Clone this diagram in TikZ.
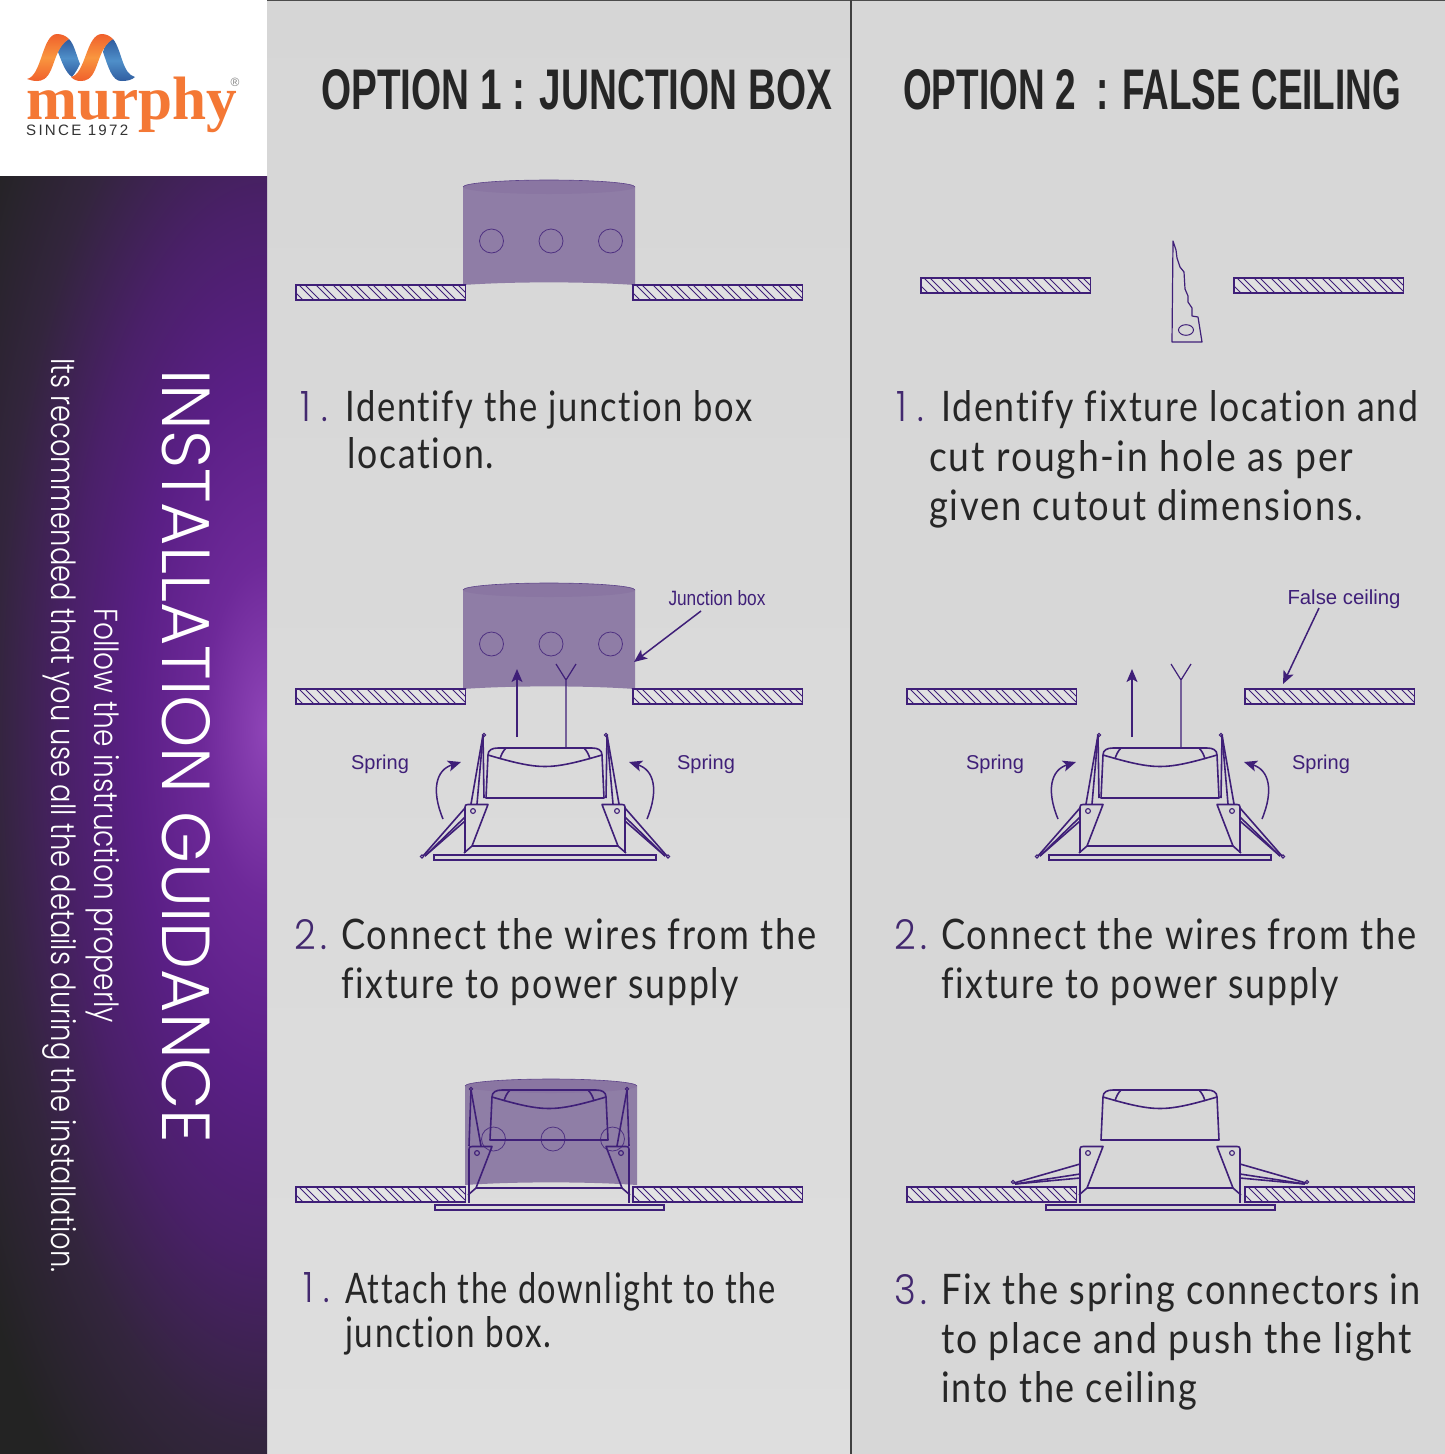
\documentclass[tikz,border=0pt]{standalone}
\usepackage{graphicx}
\usepackage{fontspec}
\setmainfont{Liberation Sans}
\newfontfamily\bodyf[LetterSpace=5,Ligatures=CommonOff]{Lato}
\newfontfamily\numf{Poppins Light}
\newfontfamily\sidef{Poppins Light}
\newfontfamily\logof{Liberation Serif}
\usetikzlibrary{arrows.meta}
\definecolor{ink}{HTML}{3F1F78}
\definecolor{txt}{HTML}{262626}
\definecolor{num}{HTML}{43296F}
\definecolor{drumc}{HTML}{8D7BA5}
\definecolor{drumtop}{HTML}{8A76A2}
\definecolor{logoO}{HTML}{F47835}
\definecolor{ribR}{HTML}{F0602C}
\definecolor{ribM}{HTML}{F9963F}
\definecolor{ribB}{HTML}{2F5B9E}
\definecolor{ribL}{HTML}{4F8FC9}
\pgfdeclareradialshading{sideglow}{\pgfpoint{0bp}{0bp}}{
 rgb(0bp)=(.56,.27,.72);
 rgb(4bp)=(.43,.16,.60);
 rgb(8.5bp)=(.35,.12,.52);
 rgb(12.5bp)=(.29,.125,.41);
 rgb(17bp)=(.20,.145,.24);
 rgb(22bp)=(.137,.137,.137);
 rgb(50bp)=(.137,.137,.137)}
\tikzset{
 fx/.style={draw=ink,line width=1.6pt,line join=round},
 barframe/.style={draw=ink,line width=1.3pt},
 lbl/.style={text=ink,inner sep=0pt,font=\fontsize{20}{20}\selectfont},
 bodytext/.style={text=txt,inner sep=0pt,anchor=base west,font=\bodyf\fontsize{36}{36}\selectfont},
 bodynum/.style={text=num,inner sep=0pt,anchor=base west,font=\numf\fontsize{36}{36}\selectfont},
 titletext/.style={text=txt,inner sep=0pt,anchor=base west,font=\bfseries\fontsize{56}{56}\selectfont},
 sidetext/.style={text=white,inner sep=0pt,anchor=base west,rotate=-90},
 ptr/.style={draw=ink,line width=1.5pt,-{Stealth[length=13pt,width=11pt,inset=3pt]}},
}
\newcommand\bl[2]{\resizebox{#1pt}{31pt}{#2}}
\newcommand\hatchbar[2]{%
 \begin{scope}[shift={(#1,#2)}]
  \fill[fill=white,fill opacity=0.25] (0,0) rectangle (169.5,15);
  \begin{scope}
   \clip (0,0) rectangle (169.5,15);
   \foreach \k in {0,...,10}{
    \draw[ink,line width=0.9pt] ({17*\k-14},0) -- ++(15,15);
    \draw[ink,line width=0.9pt] ({17*\k-8},0) -- ++(15,15);
   }
  \end{scope}
  \draw[barframe] (0,0) rectangle (169.5,15);
 \end{scope}}
\newcommand\drum[4]{%
 \begin{scope}[shift={(#1,0)}]
  \fill[drumc,fill opacity=.97] (0,#2) -- (0,#3) .. controls (50,{#3-3.5}) and (122,{#3-3.5}) .. (172,#3) -- (172,#2) -- cycle;
  \fill[drumtop] (86,#2) ellipse (86 and 7);
  \draw[ink!60!drumc,line width=.6pt] (0,#2) arc[start angle=180,end angle=360,x radius=86,y radius=7];
  \foreach \hx in {28.5,88,147.5} \draw[ink,line width=.8pt,draw opacity=.8] (\hx,#4) circle (12);
 \end{scope}}
\newcommand\fixhalf{%
  \draw[fx] (-57,35) .. controls (-57,30) and (-53,28) .. (-47,28) -- (0,28);
  \draw[fx] (-57,35) -- (-59,78) -- (0,78);
  \draw[fx] (-57,35) .. controls (-30,43) and (-14,46.5) .. (0,46.5);
  \draw[fx] (-39,28) .. controls (-42,31) and (-44,35) .. (-45,39);
  \draw[fx] (-80,87) .. controls (-80,85) and (-79,84.5) .. (-77,84.5) -- (-57,84.5) -- (-73,126) -- (0,126);
  \draw[fx] (-80,87) -- (-80,133);
  \draw[fx] (-73,126) -- (-81,133);
  \draw[ink,line width=1.1pt] (-72,91) circle (2.4);
}
\newcommand\fixcore[2]{%
 \begin{scope}[shift={(#1,#2)}]
  \fixhalf
  \begin{scope}[xscale=-1]\fixhalf\end{scope}
 \end{scope}}
\newcommand\flange[3]{\draw[ink,line width=2pt] ({#1-#3},#2) rectangle ({#1+#3},{#2+5});}
\newcommand\springsOpen{%
  \draw[fx] (-62,15) -- (-74,84);
  \draw[fx] (-62,15) -- (-68,84);
  \draw[fx] (-62,15) -- (-61,78);
  \draw[fx] (-80,88) -- (-122,136);
  \draw[fx] (-80,97) -- (-120,136);
  \draw[fx] (-80,101) -- (-120,136);
  \draw[ink,line width=1.1pt] (-61,15) circle (1.6);
  \draw[ink,line width=1.1pt] (-123,136.5) circle (1.6);
}
\newcommand\springsUp{%
  \draw[fx] (-78,28) -- (-80,84);
  \draw[fx] (-78,28) -- (-68,84);
  \draw[ink,line width=1.1pt] (-78,27) circle (1.6);
}
\newcommand\springsFlat{%
  \draw[fx] (-80,102) -- (-146,121);
  \draw[fx] (-80,112) -- (-145,122);
  \draw[fx] (-80,116) -- (-145,122);
  \draw[ink,line width=1.1pt] (-147,120) circle (1.6);
}
\newcommand\fixwith[3]{%
 \begin{scope}[shift={(#1,#2)}]
  #3
  \begin{scope}[xscale=-1]#3\end{scope}
 \end{scope}}
\begin{document}
\begin{tikzpicture}[x=1pt,y=-1pt]
\useasboundingbox (0,0) rectangle (1445,1454);
% panels
\shade[top color=black!16,bottom color=black!13] (267,0) rectangle (851,1454);
\fill[black!15.5] (851,0) rectangle (1445,1454);
% sidebar
\begin{scope}
 \clip (0,176) rectangle (267,1454);
 \shade[shading=sideglow] (267,730) ellipse (400 and 1050);
\end{scope}
% logo panel
\fill[white] (0,0) rectangle (267,176);
\draw[black!70,line width=.8pt] (267,0.4) -- (1445,0.4);
\draw[black!75,line width=2pt] (851,0) -- (851,1454);
% logo ribbons
\shade[top color=ribB,bottom color=ribB,middle color=ribL]
 (69,39) .. controls (63,42) and (60,47) .. (58,52) .. controls (62,62) and (65,72) .. (72,77) .. controls (76,72) and (78,68) .. (80,64) .. controls (76,54) and (74,44) .. (69,39) -- cycle;
\shade[top color=ribB,bottom color=ribB,middle color=ribL]
 (113,39) .. controls (107,42) and (104,47) .. (103,52) .. controls (108,66) and (112,82) .. (122,81) .. controls (127,81) and (132,80) .. (135,77) .. controls (122,74) and (122,50) .. (113,39) -- cycle;
\shade[top color=ribR,bottom color=ribR,middle color=ribM]
 (27,79) .. controls (42,76) and (42,34) .. (57,34) .. controls (62,34) and (66,36) .. (69,39) .. controls (58,46) and (56,58) .. (51,70) .. controls (47,79) and (42,81) .. (37,81) .. controls (33,81) and (30,80) .. (27,79) -- cycle;
\shade[top color=ribR,bottom color=ribR,middle color=ribM]
 (71,77) .. controls (86,74) and (86,34) .. (102,34) .. controls (106,34) and (110,36) .. (113,39) .. controls (102,46) and (100,58) .. (95,70) .. controls (91,79) and (86,81) .. (81,81) .. controls (77,81) and (74,80) .. (71,77) -- cycle;
\node[inner sep=0pt,anchor=base west,text=logoO] (logoword) at (26,119) {\resizebox{211pt}{!}{\logof\bfseries murphy}};
\node[inner sep=0pt,anchor=base west,text=black!80] (logosince) at (26,135) {\resizebox{102pt}{!}{\addfontfeature{LetterSpace=15}SINCE 1972}};
\node[inner sep=0pt,text=black!50] (logoreg) at (235,82) {\fontsize{12}{12}\selectfont ®};
% sidebar text
\node[sidetext] (sidetitle) at (162,369) {\resizebox{774pt}{48pt}{\sidef INSTALLATION GUIDANCE}};
\node[sidetext] (sidefollow) at (94,608) {\resizebox{415pt}{25pt}{\sidef Follow the instruction properly}};
\node[sidetext] (siderec) at (52,358) {\resizebox{914pt}{25pt}{\sidef Its recommended that you use all the details during the installation.}};
% titles
\node[titletext] (title1) at (321,109) {\resizebox{511pt}{40pt}{OPTION 1 : JUNCTION BOX}};
\node[titletext] (title2) at (903,109) {\resizebox{498pt}{40pt}{OPTION 2\ \ : FALSE CEILING}};
% Row 1
\drum{463}{187}{285}{241}
\hatchbar{296}{285}\hatchbar{633}{285}
\hatchbar{921}{278}\hatchbar{1234}{278}
\draw[ink,line width=1.2pt,line join=round] (1173,241) -- (1176,250) -- (1177,258) -- (1180,267) -- (1184,272) -- (1185,289) -- (1188,296) -- (1188,302) -- (1192,308) -- (1192,316) -- (1198,317) -- (1202,342) -- (1172,342) -- cycle;
\draw[ink,line width=1pt] (1186,330) ellipse (7.5 and 5.3);
% Row 1 text
\node[bodynum]  (t1n) at (300,421) {\resizebox{28pt}{30pt}{1\hspace{.3em}.}};
\node[bodytext] (t1a) at (345,421) {\bl{407}{Identify the junction box}};
\node[bodytext] (t1b) at (347,468) {\bl{147}{location.}};
\node[bodynum]  (u1n) at (896,421) {\resizebox{28pt}{30pt}{1\hspace{.3em}.}};
\node[bodytext] (u1a) at (941,421) {\bl{477}{Identify fixture location and}};
\node[bodytext] (u1b) at (929,471) {\bl{424}{cut rough-in hole as per}};
\node[bodytext] (u1c) at (929,520) {\bl{434}{given cutout dimensions.}};
% Row 2 option 1
\drum{463}{590}{689}{644}
\hatchbar{296}{689}\hatchbar{633}{689}
\fixcore{545}{720}\flange{545}{855}{111}
\fixwith{545}{720}{\springsOpen}
\node[lbl] (jblabel) at (717,598) {\resizebox{97pt}{15pt}{Junction box}};
\coordinate (jbfrom) at (701,611);
\coordinate (jbto) at (634,662);
\draw[ptr] (jbfrom) -- (jbto);
\coordinate (a1s) at (517,737); \coordinate (a1e) at (517,669);
\draw[ptr] (a1s) -- (a1e);
\coordinate (w1s) at (566,748); \coordinate (w1m) at (566,680);
\coordinate (w1l) at (556,664); \coordinate (w1r) at (576,664);
\draw[ink,line width=1.2pt] (w1s) -- (w1m) -- (w1l) (w1m) -- (w1r);
\node[lbl] (sp1) at (380,764) {Spring};
\node[lbl] (sp2) at (706,764) {Spring};
\coordinate (c1s) at (443,819); \coordinate (c1e) at (461,762);
\coordinate (c2s) at (647,819); \coordinate (c2e) at (629,762);
\draw[ptr] (c1s) .. controls (431,790) and (436,770) .. (c1e);
\draw[ptr] (c2s) .. controls (659,790) and (654,770) .. (c2e);
% Row 2 option 2
\hatchbar{907}{689}\hatchbar{1245}{689}
\fixcore{1160}{720}\flange{1160}{855}{111}
\fixwith{1160}{720}{\springsOpen}
\node[lbl] (fclabel) at (1344,599) {\resizebox{113pt}{!}{False ceiling}};
\coordinate (fcfrom) at (1319,608);
\coordinate (fcto) at (1283,684);
\draw[ptr] (fcfrom) -- (fcto);
\coordinate (a2s) at (1132,737); \coordinate (a2e) at (1132,669);
\draw[ptr] (a2s) -- (a2e);
\coordinate (w2s) at (1181,748); \coordinate (w2m) at (1181,680);
\coordinate (w2l) at (1171,664); \coordinate (w2r) at (1191,664);
\draw[ink,line width=1.2pt] (w2s) -- (w2m) -- (w2l) (w2m) -- (w2r);
\node[lbl] (sp3) at (995,764) {Spring};
\node[lbl] (sp4) at (1321,764) {Spring};
\coordinate (c3s) at (1058,819); \coordinate (c3e) at (1076,762);
\coordinate (c4s) at (1262,819); \coordinate (c4e) at (1244,762);
\draw[ptr] (c3s) .. controls (1046,790) and (1051,770) .. (c3e);
\draw[ptr] (c4s) .. controls (1274,790) and (1269,770) .. (c4e);
% Row 2 text
\node[bodynum]  (t2n) at (294,949) {\resizebox{33pt}{30pt}{2\hspace{.12em}.}};
\node[bodytext] (t2a) at (341,949) {\bl{475}{Connect the wires from the}};
\node[bodytext] (t2b) at (341,998) {\bl{398}{fixture to power supply}};
\node[bodynum]  (u2n) at (894,949) {\resizebox{33pt}{30pt}{2\hspace{.12em}.}};
\node[bodytext] (u2a) at (941,949) {\bl{475}{Connect the wires from the}};
\node[bodytext] (u2b) at (941,998) {\bl{398}{fixture to power supply}};
% Row 3 option 1
\drum{465}{1086}{1185}{1139}
\hatchbar{296}{1187}\hatchbar{633}{1187}
\fixcore{549}{1062}\flange{549}{1205}{114.5}
\draw[fx] (469,1195) -- (469,1203) (629,1195) -- (629,1203);
\fixwith{549}{1062}{\springsUp}
% Row 3 option 2
\hatchbar{907}{1187}\hatchbar{1245}{1187}
\fixcore{1160}{1062}\flange{1160}{1205}{114.5}
\draw[fx] (1080,1195) -- (1080,1203) (1240,1195) -- (1240,1203);
\fixwith{1160}{1062}{\springsFlat}
% Row 3 text
\node[bodynum]  (t3n) at (303,1302) {\resizebox{27pt}{30pt}{1\hspace{.3em}.}};
\node[bodytext] (t3a) at (345,1303) {\bl{430}{Attach the downlight to the}};
\node[bodytext] (t3b) at (345,1347) {\bl{206}{junction box.}};
\node[bodynum]  (u3n) at (894,1304) {\resizebox{33pt}{30pt}{3\hspace{.12em}.}};
\node[bodytext] (u3a) at (941,1304) {\bl{479}{Fix the spring connectors in}};
\node[bodytext] (u3b) at (941,1353) {\bl{471}{to place and push the light}};
\node[bodytext] (u3c) at (941,1402) {\bl{256}{into the ceiling}};
\end{tikzpicture}
\end{document}
